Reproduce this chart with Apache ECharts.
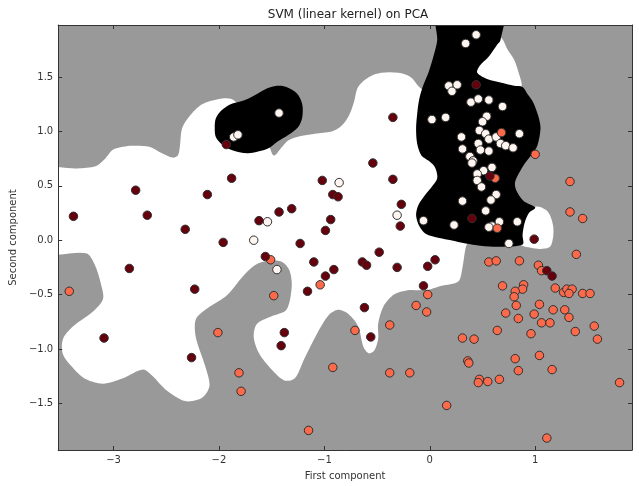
<!DOCTYPE html>
<html>
<head>
<meta charset="utf-8">
<title>SVM (linear kernel) on PCA</title>
<script src="https://cdn.jsdelivr.net/npm/echarts@6/dist/echarts.min.js"></script>
<style>
  html, body { margin: 0; padding: 0; background: #ffffff; }
  #chart { width: 639px; height: 486px; }
</style>
</head>
<body>
<div id="chart"></div>
<script>
// Axis ticks
const xTicks = [-3, -2, -1, 0, 1];
const yTicks = [-1.5, -1, -0.5, 0, 0.5, 1, 1.5];

// Samples projected on the first two principal components, by class
const class0Points = [
  [-1.43, 1.17], [-1.86, 0.95], [-1.82, 0.97], [-0.86, 0.53], [-0.31, 0.23], [-1.54, 0.17],
  [-0.06, 0.18], [-1.67, 0.00], [-1.45, -0.27], [0.44, 1.89], [0.34, 1.81], [0.18, 1.42],
  [0.26, 1.43], [0.21, 1.37], [0.39, 1.27], [0.46, 1.30], [0.56, 1.29], [0.69, 1.23],
  [0.02, 1.11], [0.15, 1.13], [0.54, 1.14], [0.50, 1.09], [0.85, 0.98], [0.30, 0.95],
  [0.47, 1.01], [0.53, 0.98], [0.56, 0.93], [0.63, 0.95], [0.46, 0.89], [0.67, 0.89],
  [0.72, 0.87], [0.79, 0.85], [0.31, 0.84], [0.48, 0.83], [0.56, 0.82], [0.38, 0.77],
  [0.41, 0.73], [0.40, 0.71], [0.51, 0.64], [0.59, 0.67], [0.45, 0.61], [0.45, 0.55],
  [0.49, 0.49], [0.63, 0.42], [0.58, 0.37], [0.31, 0.36], [0.53, 0.27], [0.23, 0.14],
  [0.66, 0.17], [0.59, 0.13], [0.56, 0.12], [0.83, 0.17], [0.75, -0.03]
];
const class1Points = [
  [0.68, 0.99], [1.00, 0.79], [0.62, 0.57], [1.33, 0.54], [1.33, 0.26], [1.45, 0.20],
  [0.64, 0.11], [-3.42, -0.47], [-2.01, -0.85], [-1.81, -1.22], [-1.79, -1.39], [-1.51, -0.18],
  [-1.04, -0.41], [-1.48, -0.51], [-0.02, -0.50], [-0.13, -0.60], [-0.03, -0.66], [-0.38, -0.78],
  [-0.71, -0.83], [-0.92, -1.17], [-0.38, -1.22], [-0.19, -1.22], [-1.15, -1.75], [1.39, -0.13],
  [0.56, -0.20], [0.63, -0.19], [0.85, -0.19], [1.03, -0.23], [1.06, -0.28], [0.69, -0.42],
  [0.89, -0.41], [0.88, -0.45], [0.81, -0.47], [0.80, -0.52], [0.82, -0.60], [1.04, -0.59],
  [1.19, -0.44], [1.27, -0.48], [1.30, -0.45], [1.35, -0.45], [1.32, -0.49], [1.45, -0.49],
  [1.52, -0.49], [0.72, -0.67], [0.84, -0.72], [0.99, -0.68], [1.17, -0.64], [1.28, -0.64],
  [1.32, -0.71], [1.06, -0.76], [1.14, -0.76], [0.64, -0.83], [0.96, -0.86], [1.38, -0.84],
  [1.56, -0.79], [1.59, -0.91], [0.31, -0.90], [0.42, -0.91], [1.04, -1.06], [0.36, -1.11],
  [0.37, -1.13], [0.81, -1.09], [0.84, -1.20], [1.16, -1.19], [0.47, -1.28], [0.46, -1.31],
  [0.55, -1.30], [0.66, -1.28], [1.80, -1.31], [0.16, -1.52], [1.11, -1.82]
];
const class2Points = [
  [-1.93, 0.88], [-1.88, 0.57], [-2.79, 0.46], [-2.11, 0.42], [-3.38, 0.22], [-2.68, 0.23],
  [-2.32, 0.10], [-0.35, 1.13], [-0.54, 0.71], [-1.02, 0.55], [-0.35, 0.56], [-0.92, 0.42],
  [-0.87, 0.40], [-0.27, 0.33], [-1.43, 0.26], [-1.31, 0.29], [-1.62, 0.18], [-0.94, 0.19],
  [-0.99, 0.09], [-0.28, 0.13], [0.44, 1.43], [0.57, 0.59], [0.40, 0.20], [0.99, 0.01],
  [-1.96, -0.02], [-2.85, -0.26], [-2.23, -0.45], [-3.09, -0.90], [-2.26, -1.08], [-1.23, -0.03],
  [-1.56, -0.15], [-1.10, -0.20], [-0.91, -0.27], [-0.99, -0.33], [-1.16, -0.47], [-0.48, -0.11],
  [-0.64, -0.20], [-0.60, -0.23], [-0.31, -0.25], [-0.02, -0.24], [0.05, -0.18], [-0.06, -0.42],
  [-0.62, -0.62], [-0.56, -0.89], [-1.38, -0.85], [-1.41, -0.97], [1.11, -0.28], [1.16, -0.33]
];

// Decision regions (outlines in component space); class 1 is the plot background
const class2RegionMain = [
  [-3.7, 0.64], [-3.34, 0.66], [-3.17, 0.68], [-3.08, 0.75], [-3.01, 0.83], [-2.91, 0.86],
  [-2.82, 0.87], [-2.66, 0.86], [-2.54, 0.80], [-2.44, 0.76], [-2.39, 0.78], [-2.37, 0.87],
  [-2.35, 1.03], [-2.28, 1.14], [-2.16, 1.25], [-2.00, 1.30], [-1.88, 1.30], [-1.81, 1.24],
  [-1.69, 1.13], [-1.57, 1.04], [-1.54, 0.93], [-1.48, 0.78], [-1.40, 0.86], [-1.34, 0.92],
  [-1.21, 0.96], [-1.09, 0.98], [-0.93, 1.00], [-0.84, 1.05], [-0.77, 1.14], [-0.72, 1.27],
  [-0.68, 1.41], [-0.58, 1.50], [-0.46, 1.54], [-0.30, 1.54], [-0.18, 1.50], [-0.10, 1.41],
  [0.03, 1.30], [0.11, 0.93], [0.15, 0.48], [0.30, 0.12], [0.39, 0.03], [0.37, 0.00],
  [0.34, -0.07], [0.31, -0.25], [0.27, -0.38], [0.11, -0.42], [0.01, -0.45], [-0.08, -0.46],
  [-0.21, -0.46], [-0.34, -0.50], [-0.44, -0.61], [-0.49, -0.77], [-0.49, -0.91], [-0.53, -1.02],
  [-0.58, -1.04], [-0.63, -0.98], [-0.68, -0.79], [-0.77, -0.68], [-0.87, -0.64], [-0.96, -0.69],
  [-1.07, -0.86], [-1.19, -1.09], [-1.28, -1.27], [-1.38, -1.29], [-1.50, -1.19], [-1.62, -1.04],
  [-1.67, -0.89], [-1.64, -0.77], [-1.50, -0.70], [-1.36, -0.64], [-1.31, -0.43], [-1.33, -0.28],
  [-1.40, -0.20], [-1.53, -0.19], [-1.66, -0.23], [-1.78, -0.34], [-1.88, -0.46], [-1.94, -0.52],
  [-2.13, -0.64], [-2.22, -0.73], [-2.22, -0.89], [-2.13, -1.16], [-2.09, -1.34], [-2.16, -1.45],
  [-2.32, -1.48], [-2.51, -1.37], [-2.63, -1.25], [-2.72, -1.19], [-2.91, -1.27], [-3.10, -1.32],
  [-3.26, -1.28], [-3.38, -1.18], [-3.48, -1.05], [-3.48, -0.91], [-3.38, -0.79], [-3.20, -0.66],
  [-3.10, -0.54], [-3.12, -0.40], [-3.18, -0.22], [-3.26, -0.12], [-3.7, -0.10]
];
const class2RegionUpper = [
  [0.68, 1.86], [0.74, 1.75], [0.80, 1.66], [0.84, 1.55], [0.87, 1.41], [0.77, 1.39],
  [0.48, 1.43], [0.39, 1.57], [0.53, 1.73], [0.64, 1.84]
];
const class2RegionLower = [
  [0.86, 0.21], [0.93, 0.28], [1.02, 0.31], [1.10, 0.28], [1.14, 0.23], [1.17, 0.13],
  [1.17, 0.03], [1.14, -0.06], [1.05, -0.08], [0.96, -0.07], [0.86, -0.04], [0.84, 0.07]
];
const class0RegionLeft = [
  [-2.04, 1.04], [-2.03, 0.95], [-1.97, 0.88], [-1.88, 0.83], [-1.73, 0.80], [-1.61, 0.82],
  [-1.52, 0.85], [-1.44, 0.91], [-1.34, 0.97], [-1.25, 1.04], [-1.21, 1.13], [-1.21, 1.25],
  [-1.26, 1.35], [-1.36, 1.41], [-1.45, 1.42], [-1.56, 1.39], [-1.67, 1.33], [-1.78, 1.28],
  [-1.89, 1.25], [-1.98, 1.19], [-2.03, 1.12]
];
const class0RegionMain = [
  [0.07, 2.1], [0.69, 2.1], [0.67, 1.84], [0.64, 1.80], [0.56, 1.69], [0.47, 1.60],
  [0.45, 1.54], [0.55, 1.48], [0.67, 1.45], [0.80, 1.42], [0.88, 1.41], [0.93, 1.34],
  [0.98, 1.27], [1.03, 1.14], [1.05, 1.03], [1.02, 0.87], [0.96, 0.78], [0.89, 0.69],
  [0.81, 0.54], [0.82, 0.46], [0.89, 0.36], [1.00, 0.30], [0.94, 0.25], [0.90, 0.16],
  [0.88, 0.05], [0.88, -0.04], [0.67, -0.06], [0.48, -0.05], [0.34, -0.03], [0.20, 0.00],
  [0.09, 0.02], [-0.04, 0.06], [-0.10, 0.13], [-0.13, 0.23], [-0.11, 0.32], [-0.05, 0.41],
  [0.01, 0.48], [0.07, 0.57], [0.05, 0.67], [-0.01, 0.73], [-0.08, 0.78], [-0.12, 0.89],
  [-0.13, 1.03], [-0.12, 1.16], [-0.10, 1.30], [-0.06, 1.43], [-0.01, 1.55], [0.04, 1.71],
  [0.07, 1.84]
];

const FONT = 'DejaVu Sans';
const TEXT = '#333333';
const FRAME = '#333333';

const fmtX = v => (v < 0 ? '\u2212' : '') + Math.abs(v);
const fmtY = v => (v < 0 ? '\u2212' : '') + Math.abs(v).toFixed(1);

function regionSeries(polys, fill, z) {
  return {
    type: 'custom',
    coordinateSystem: 'cartesian2d',
    clip: true,
    silent: true,
    z: z,
    data: polys.map(p => p[0]),
    renderItem: function (params, api) {
      const pts = polys[params.dataIndex].map(p => api.coord(p));
      return {
        type: 'polygon',
        shape: { points: pts, smooth: 0.3 },
        style: { fill: fill, stroke: fill, lineWidth: 0 }
      };
    }
  };
}

function pointSeries(data, color) {
  return {
    type: 'scatter',
    data: data,
    symbol: 'circle',
    symbolSize: 8.5,
    z: 20,
    itemStyle: { color: color, borderColor: '#303030', borderWidth: 1, opacity: 1 }
  };
}

const xRange = { min: -3.525, max: 1.918 };
const yRange = { min: -1.93, max: 1.98 };

function axisCommon(ticks, fmt, showLabel) {
  return {
    type: 'value',
    z: 10,
    axisLine: { show: true, onZero: false, lineStyle: { color: FRAME, width: 1 } },
    axisTick: { show: true, inside: true, length: 4, customValues: ticks, lineStyle: { color: FRAME } },
    axisLabel: showLabel
      ? { show: true, customValues: ticks, formatter: fmt, color: TEXT, fontSize: 10, fontFamily: FONT, margin: 5 }
      : { show: false },
    splitLine: { show: false }
  };
}

const chart = echarts.init(document.getElementById('chart'), null, { renderer: 'canvas' });
chart.setOption({
  animation: false,
  backgroundColor: '#ffffff',
  title: {
    text: 'SVM (linear kernel) on PCA',
    left: 343,
    textAlign: 'center',
    top: 4,
    textStyle: { fontFamily: FONT, fontSize: 12, fontWeight: 'normal', color: '#222222' }
  },
  grid: {
    left: 55, right: 7, top: 25, bottom: 31,
    show: true, backgroundColor: '#999999', borderWidth: 0
  },
  xAxis: [
    Object.assign(axisCommon(xTicks, fmtX, true), xRange, {
      position: 'bottom',
      name: 'First component', nameLocation: 'middle', nameGap: 21,
      nameTextStyle: { fontFamily: FONT, fontSize: 10, color: TEXT }
    }),
    Object.assign(axisCommon(xTicks, fmtX, false), xRange, { position: 'top' })
  ],
  yAxis: [
    Object.assign(axisCommon(yTicks, fmtY, true), yRange, {
      position: 'left',
      name: 'Second component', nameLocation: 'middle', nameGap: 40,
      nameTextStyle: { fontFamily: FONT, fontSize: 10, color: TEXT }
    }),
    Object.assign(axisCommon(yTicks, fmtY, false), yRange, { position: 'right' })
  ],
  series: [
    regionSeries([class2RegionMain, class2RegionUpper, class2RegionLower], '#ffffff', 3),
    regionSeries([class0RegionLeft, class0RegionMain], '#000000', 4),
    pointSeries(class0Points, '#fff5f0'),
    pointSeries(class1Points, '#fb6a4a'),
    pointSeries(class2Points, '#67000d')
  ]
});
</script>
</body>
</html>
